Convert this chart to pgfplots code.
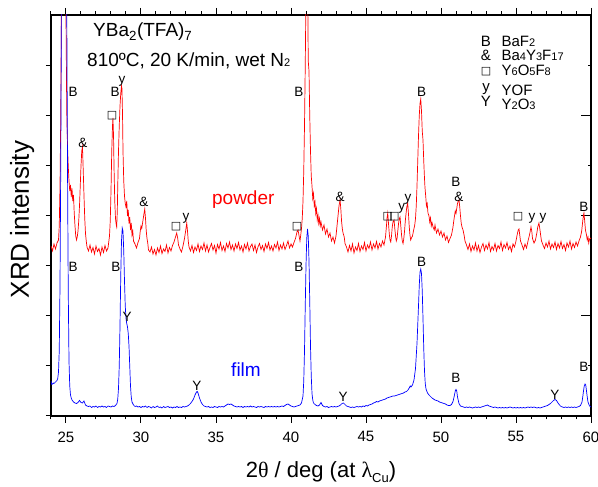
\documentclass[border=0pt]{standalone}
\usepackage{pgfplots}
\pgfplotsset{compat=1.18}
\usepackage{fontspec}
\setmainfont{Liberation Sans}
\newfontfamily\greekfont{Liberation Serif}
\newfontfamily\symbolfont{DejaVu Sans}

% small digits used as chemical indices
\newcommand{\ix}[1]{{\fontsize{11}{11}\selectfont #1}}
\newcommand{\sq}{{\symbolfont\fontsize{11}{11}\selectfont □}}

\tikzset{lbl/.style={font=\fontsize{13.5}{14}\selectfont, inner sep=0pt}}

\begin{document}
\begin{tikzpicture}
\useasboundingbox (-51pt,-71pt) rectangle (547pt,416pt);
\pgfplotsset{
  xrdframe/.style={
    width=540pt, height=401pt, scale only axis,
    xmin=24, xmax=60, ymin=0, ymax=8.02,
    axis line style={line width=1.1pt},
    tick style={black, line width=1pt},
  },
}
% left-hand intensity ticks
\begin{axis}[xrdframe, xtick=\empty, ytick={0,...,7}, yticklabels={},
  ytick pos=left, tick align=outside, major tick length=5pt]
\end{axis}
% right-hand intensity ticks
\begin{axis}[xrdframe, xtick=\empty, ytick={2,4,6}, minor ytick={1,3,5,7},
  yticklabels={}, ytick pos=right, tick align=inside,
  major tick length=10pt, minor tick length=3.5pt]
\end{axis}
% diffraction patterns
\begin{axis}[xrdframe, ytick=\empty,
  xtick={25,30,...,60}, minor xtick={24,...,60}, xtick pos=both,
  tick align=outside, major tick length=7pt, minor tick length=3.5pt,
  clip mode=individual,
  tick label style={font=\fontsize{15}{15}\selectfont},
  /pgf/number format/assume math mode=true,
  xticklabel style={yshift=-5pt},
]
% powder
\addplot[red, line width=0.7pt] coordinates {
(24.0,3.40) (24.1,3.30) (24.2,3.44) (24.3,3.34) (24.4,3.46) (24.5,3.52) (24.55,3.8) (24.6,4.6) (24.65,6.0) (24.7,8.5) (24.75,11) (24.8,13) (24.85,13) (24.9,12) (24.95,10) (25.0,8.0) (25.05,6.1) (25.1,5.4) (25.15,5.0) (25.2,4.7) (25.25,4.5) (25.3,4.62) (25.35,4.38) (25.4,4.55) (25.45,4.30) (25.5,4.42) (25.55,4.05) (25.6,3.8) (25.65,3.6) (25.7,3.52) (25.75,3.58) (25.8,3.7) (25.85,3.9) (25.9,4.2) (25.95,4.6) (26.0,5.0) (26.05,5.3) (26.1,5.38) (26.15,4.9) (26.2,4.4) (26.25,3.95) (26.3,3.65) (26.35,3.5) (26.4,3.38)
(26.5,3.30) (26.6,3.42) (26.7,3.28) (26.8,3.37) (26.9,3.24) (27.0,3.40) (27.1,3.29) (27.2,3.35) (27.3,3.22) (27.4,3.38) (27.5,3.27) (27.6,3.41) (27.7,3.30) (27.8,3.36) (27.85,3.48) (27.9,3.6) (27.95,3.9) (28.0,4.5) (28.05,5.3) (28.1,5.8) (28.13,5.96) (28.17,5.6) (28.2,5.0) (28.25,4.3) (28.3,3.95) (28.35,3.82) (28.38,3.78) (28.42,4.1) (28.45,4.6) (28.5,5.3) (28.55,5.8) (28.6,6.2) (28.65,6.45) (28.7,6.6) (28.73,6.55) (28.77,6.0) (28.8,5.3) (28.85,4.7) (28.9,4.4) (28.95,4.25) (29.0,4.18) (29.05,4.3) (29.1,4.0) (29.15,4.12) (29.2,3.85) (29.25,3.98) (29.3,3.72) (29.35,3.86) (29.4,3.62) (29.45,3.7) (29.5,3.50)
(29.6,3.44) (29.7,3.36) (29.8,3.47) (29.9,3.55) (29.95,3.7) (30.0,3.8) (30.05,3.75) (30.1,3.85) (30.15,3.95) (30.2,4.05) (30.25,4.14) (30.3,3.95) (30.35,3.7) (30.4,3.55) (30.45,3.46) (30.5,3.32) (30.6,3.28) (30.7,3.38) (30.8,3.24) (30.9,3.33) (31.0,3.22) (31.1,3.36) (31.2,3.27) (31.3,3.40) (31.4,3.25) (31.5,3.34) (31.6,3.29) (31.7,3.42) (31.8,3.26) (31.9,3.37) (32.0,3.30) (32.1,3.41) (32.2,3.48) (32.3,3.58) (32.38,3.66) (32.45,3.55) (32.5,3.42) (32.6,3.34) (32.7,3.28) (32.8,3.40) (32.9,3.55) (33.0,3.75) (33.05,3.86) (33.1,3.7) (33.15,3.5) (33.2,3.38)
(33.3,3.30) (33.4,3.41) (33.5,3.27) (33.6,3.38) (33.7,3.31) (33.8,3.44) (33.9,3.29) (34.0,3.40) (34.1,3.33) (34.2,3.46) (34.3,3.30) (34.4,3.42) (34.5,3.28) (34.6,3.37) (34.7,3.45) (34.8,3.32) (34.9,3.41) (35.0,3.26) (35.1,3.43) (35.2,3.34) (35.3,3.47) (35.4,3.31) (35.5,3.40) (35.6,3.29) (35.7,3.45) (35.8,3.36) (35.9,3.48) (36.0,3.33) (36.1,3.42) (36.2,3.30) (36.3,3.44) (36.4,3.35) (36.5,3.47) (36.6,3.32) (36.7,3.40) (36.8,3.28) (36.9,3.43) (37.0,3.34) (37.1,3.46) (37.2,3.30) (37.3,3.39) (37.4,3.44) (37.5,3.31) (37.6,3.42) (37.7,3.27) (37.8,3.38) (37.9,3.45)
(38.0,3.33) (38.1,3.41) (38.2,3.29) (38.3,3.44) (38.4,3.35) (38.5,3.47) (38.6,3.32) (38.7,3.40) (38.8,3.30) (38.9,3.43) (39.0,3.36) (39.1,3.48) (39.2,3.31) (39.3,3.42) (39.4,3.34) (39.5,3.46) (39.6,3.33) (39.7,3.41) (39.8,3.50) (39.9,3.36) (40.0,3.44) (40.1,3.38) (40.2,3.47) (40.3,3.55) (40.4,3.68) (40.47,3.72) (40.55,3.58) (40.6,3.50) (40.65,3.62) (40.7,3.75) (40.75,3.95) (40.8,4.3) (40.85,4.9) (40.9,5.8) (40.95,7.0) (41.0,8.5) (41.05,10) (41.1,9.0) (41.15,7.1) (41.2,6.9) (41.25,6.0) (41.3,5.3) (41.35,4.8) (41.4,4.6) (41.45,4.35) (41.5,4.45) (41.55,4.2) (41.6,4.28) (41.65,4.05) (41.7,4.15) (41.75,3.92) (41.8,4.02) (41.85,3.85) (41.9,3.95) (41.95,3.8) (42.0,3.88)
(42.1,3.72) (42.2,3.82) (42.3,3.64) (42.4,3.74) (42.5,3.58) (42.6,3.66) (42.7,3.50) (42.8,3.58) (42.9,3.46) (43.0,3.6) (43.05,3.75) (43.1,3.9) (43.15,4.05) (43.2,4.2) (43.27,4.32) (43.32,4.15) (43.37,3.9) (43.42,3.75) (43.47,3.66) (43.55,3.58) (43.6,3.45) (43.7,3.38) (43.8,3.28) (43.9,3.41) (44.0,3.30) (44.1,3.44) (44.2,3.26) (44.3,3.38) (44.4,3.31) (44.5,3.45) (44.6,3.29) (44.7,3.40) (44.8,3.33) (44.9,3.47) (45.0,3.30) (45.1,3.42) (45.2,3.35) (45.3,3.48) (45.4,3.32) (45.5,3.44) (45.6,3.36) (45.7,3.49) (45.8,3.34) (45.9,3.45) (46.0,3.38) (46.1,3.50) (46.2,3.42) (46.3,3.58) (46.35,3.75) (46.4,3.95) (46.45,4.06) (46.5,3.85) (46.55,3.65) (46.6,3.52) (46.65,3.48) (46.7,3.6) (46.75,3.78) (46.8,3.88) (46.87,3.92) (46.92,3.75) (46.97,3.6) (47.02,3.5) (47.07,3.55) (47.12,3.7) (47.17,3.85) (47.22,3.95) (47.27,3.98) (47.32,3.8) (47.37,3.62) (47.42,3.5) (47.47,3.45) (47.52,3.55) (47.57,3.7) (47.62,3.9) (47.67,4.05) (47.72,4.18) (47.78,4.26) (47.83,4.05) (47.88,3.8) (47.93,3.62) (47.98,3.52) (48.03,3.56)
(48.1,3.6) (48.15,3.68) (48.2,3.75) (48.25,3.82) (48.3,3.95) (48.35,4.2) (48.4,4.6) (48.45,5.1) (48.5,5.6) (48.55,6.0) (48.6,6.25) (48.65,6.34) (48.7,6.1) (48.75,5.7) (48.8,5.52) (48.85,5.1) (48.9,4.75) (48.93,4.58) (48.98,4.4) (49.03,4.2) (49.08,4.25) (49.13,4.06) (49.2,4.0) (49.25,3.88) (49.3,3.96) (49.35,3.80) (49.4,3.87) (49.47,3.78) (49.55,3.72) (49.6,3.82) (49.7,3.66) (49.8,3.74) (49.9,3.62) (50.0,3.70) (50.1,3.58) (50.2,3.66) (50.3,3.52) (50.4,3.60) (50.5,3.47) (50.6,3.55) (50.7,3.62) (50.75,3.7) (50.8,3.78) (50.85,3.9) (50.9,4.0) (50.95,4.1) (51.0,4.05) (51.05,4.15) (51.1,4.25) (51.15,4.3) (51.2,4.32) (51.25,4.18) (51.3,4.0) (51.35,3.85) (51.4,3.78) (51.47,3.72) (51.55,3.6) (51.6,3.5) (51.7,3.42)
(51.8,3.33) (51.9,3.44) (52.0,3.29) (52.1,3.40) (52.2,3.32) (52.3,3.46) (52.4,3.30) (52.5,3.41) (52.6,3.27) (52.7,3.38) (52.8,3.45) (52.9,3.31) (53.0,3.42) (53.1,3.34) (53.2,3.47) (53.3,3.29) (53.4,3.39) (53.5,3.32) (53.6,3.45) (53.7,3.30) (53.8,3.41) (53.9,3.35) (54.0,3.48) (54.1,3.31) (54.2,3.43) (54.3,3.36) (54.4,3.47) (54.5,3.33) (54.6,3.40) (54.7,3.29) (54.8,3.44) (54.9,3.38) (55.0,3.50) (55.05,3.58) (55.1,3.66) (55.15,3.72) (55.2,3.74) (55.25,3.62) (55.3,3.5) (55.4,3.42) (55.5,3.33) (55.6,3.44) (55.7,3.36) (55.8,3.5) (55.9,3.62) (56.0,3.78) (56.05,3.7) (56.1,3.55) (56.2,3.46) (56.3,3.52) (56.4,3.68) (56.45,3.78) (56.53,3.86) (56.6,3.72) (56.65,3.60) (56.7,3.50) (56.8,3.42) (56.9,3.35)
(57.0,3.46) (57.1,3.38) (57.2,3.50) (57.3,3.34) (57.4,3.44) (57.5,3.37) (57.6,3.48) (57.7,3.33) (57.8,3.45) (57.9,3.36) (58.0,3.49) (58.1,3.35) (58.2,3.43) (58.3,3.31) (58.4,3.46) (58.5,3.38) (58.6,3.50) (58.7,3.34) (58.8,3.45) (58.9,3.37) (59.0,3.48) (59.1,3.40) (59.2,3.50) (59.3,3.58) (59.38,3.7) (59.45,3.9) (59.5,4.02) (59.53,4.06) (59.58,3.9) (59.63,3.72) (59.7,3.62) (59.75,3.52) (59.8,3.58) (59.85,3.46) (59.9,3.54) (60.0,3.56)
};
% film
\addplot[blue, line width=0.7pt] coordinates {
(24.00,0.70) (24.05,0.63) (24.10,0.64) (24.15,0.66) (24.20,0.65) (24.30,0.68) (24.40,0.71) (24.45,0.75) (24.50,0.88) (24.55,1.3) (24.60,2.6) (24.65,5.0) (24.70,8.5) (24.80,11) (24.90,11) (25.00,10) (25.05,8.2) (25.10,5.0) (25.15,2.5) (25.20,1.1) (25.25,0.6) (25.30,0.42) (25.35,0.36) (25.40,0.32) (25.50,0.28) (25.60,0.26) (25.70,0.25) (25.80,0.27) (25.90,0.31) (26.00,0.27) (26.10,0.26) (26.20,0.30) (26.30,0.22) (26.40,0.20) (26.50,0.19) (26.60,0.20) (26.70,0.17) (26.80,0.19) (26.90,0.18) (27.00,0.20) (27.10,0.17) (27.20,0.19) (27.30,0.18) (27.40,0.20) (27.50,0.18) (27.60,0.19) (27.70,0.17) (27.80,0.20) (27.90,0.19) (28.00,0.18) (28.10,0.20) (28.20,0.19) (28.30,0.21)
(28.40,0.25) (28.45,0.34) (28.50,0.55) (28.55,1.0) (28.60,1.8) (28.65,2.8) (28.70,3.5) (28.75,3.76) (28.80,3.7) (28.85,3.3) (28.90,2.7) (28.95,2.2) (29.00,1.95) (29.05,1.85) (29.10,1.78) (29.15,1.65) (29.20,1.40) (29.25,1.0) (29.30,0.6) (29.35,0.38) (29.40,0.28) (29.50,0.22) (29.60,0.19) (29.70,0.20) (29.80,0.18) (29.90,0.19) (30.00,0.17) (30.10,0.19) (30.20,0.18) (30.30,0.20) (30.40,0.17) (30.50,0.19) (30.60,0.18) (30.70,0.16) (30.80,0.19) (30.90,0.17) (31.00,0.18) (31.10,0.20) (31.20,0.17) (31.30,0.18) (31.40,0.16) (31.50,0.19) (31.60,0.17) (31.70,0.18) (31.80,0.19) (31.90,0.17) (32.00,0.18) (32.10,0.16) (32.20,0.18) (32.30,0.17) (32.40,0.19) (32.50,0.17) (32.60,0.18) (32.70,0.17) (32.80,0.19) (32.90,0.18)
(33.00,0.19) (33.10,0.20) (33.20,0.22) (33.30,0.25) (33.40,0.29) (33.50,0.34) (33.60,0.42) (33.70,0.48) (33.75,0.49) (33.80,0.46) (33.90,0.36) (34.00,0.28) (34.10,0.23) (34.20,0.20) (34.30,0.19) (34.40,0.18) (34.50,0.19) (34.60,0.17) (34.70,0.18) (34.80,0.17) (34.90,0.19) (35.00,0.18) (35.10,0.17) (35.20,0.19) (35.30,0.18) (35.40,0.19) (35.50,0.18) (35.60,0.20) (35.70,0.22) (35.80,0.24) (35.90,0.23) (36.00,0.24) (36.10,0.22) (36.20,0.20) (36.30,0.19) (36.40,0.18) (36.50,0.19) (36.60,0.18) (36.70,0.19) (36.80,0.17) (36.90,0.19) (37.00,0.18) (37.10,0.19) (37.20,0.18) (37.30,0.20) (37.40,0.18) (37.50,0.19) (37.60,0.18) (37.70,0.17) (37.80,0.19) (37.90,0.18)
(38.00,0.19) (38.10,0.18) (38.20,0.17) (38.30,0.19) (38.40,0.18) (38.50,0.19) (38.60,0.18) (38.70,0.19) (38.80,0.18) (38.90,0.19) (39.00,0.18) (39.10,0.19) (39.20,0.18) (39.30,0.19) (39.40,0.20) (39.50,0.19) (39.60,0.21) (39.70,0.23) (39.80,0.24) (39.90,0.22) (40.00,0.20) (40.10,0.19) (40.20,0.18) (40.30,0.19) (40.40,0.20) (40.50,0.21) (40.60,0.22) (40.70,0.26) (40.80,0.4) (40.85,0.7) (40.90,1.3) (40.95,2.2) (41.00,3.0) (41.05,3.55) (41.10,3.74) (41.15,3.6) (41.20,3.1) (41.25,2.3) (41.30,1.4) (41.35,0.8) (41.40,0.45) (41.45,0.32) (41.50,0.26) (41.60,0.23) (41.70,0.21) (41.80,0.20) (41.90,0.22) (42.00,0.27) (42.05,0.24) (42.10,0.21)
(42.20,0.19) (42.30,0.18) (42.40,0.19) (42.50,0.17) (42.60,0.18) (42.70,0.19) (42.80,0.18) (42.90,0.19) (43.00,0.18) (43.10,0.19) (43.20,0.20) (43.30,0.22) (43.40,0.25) (43.50,0.26) (43.60,0.23) (43.70,0.20) (43.80,0.19) (43.90,0.18) (44.00,0.17) (44.10,0.18) (44.20,0.17) (44.30,0.18) (44.40,0.19) (44.50,0.18) (44.60,0.19) (44.70,0.18) (44.80,0.20) (44.90,0.19) (45.00,0.21) (45.10,0.20) (45.20,0.22) (45.30,0.23) (45.40,0.24) (45.50,0.26) (45.60,0.27) (45.70,0.29) (45.80,0.28) (45.90,0.30) (46.00,0.31) (46.10,0.32) (46.20,0.33) (46.30,0.34) (46.40,0.36) (46.50,0.37) (46.60,0.38) (46.70,0.39) (46.80,0.40) (46.90,0.40) (47.00,0.41) (47.10,0.42) (47.20,0.43) (47.30,0.44) (47.40,0.45) (47.50,0.46) (47.60,0.48) (47.70,0.49) (47.80,0.52) (47.90,0.57) (47.95,0.60) (48.00,0.58)
(48.10,0.62) (48.20,0.72) (48.30,0.95) (48.40,1.45) (48.50,2.2) (48.55,2.6) (48.60,2.88) (48.65,2.94) (48.70,2.85) (48.75,2.5) (48.80,1.95) (48.85,1.35) (48.90,0.9) (48.95,0.65) (49.00,0.54) (49.10,0.46) (49.20,0.42) (49.30,0.39) (49.40,0.36) (49.50,0.34) (49.60,0.32) (49.70,0.31) (49.80,0.30) (49.90,0.28) (50.00,0.27) (50.10,0.26) (50.20,0.25) (50.30,0.24) (50.40,0.22) (50.50,0.21) (50.60,0.21) (50.70,0.23) (50.80,0.29) (50.90,0.42) (50.95,0.50) (51.00,0.53) (51.05,0.50) (51.10,0.38) (51.20,0.25) (51.30,0.20) (51.40,0.19) (51.50,0.18) (51.60,0.17) (51.70,0.18) (51.80,0.17) (51.90,0.18)
(52.00,0.17) (52.10,0.16) (52.20,0.17) (52.30,0.18) (52.40,0.17) (52.50,0.18) (52.60,0.17) (52.70,0.18) (52.80,0.19) (52.90,0.20) (53.00,0.21) (53.10,0.22) (53.20,0.20) (53.30,0.19) (53.40,0.18) (53.50,0.17) (53.60,0.18) (53.70,0.17) (53.80,0.16) (53.90,0.17) (54.00,0.16) (54.10,0.17) (54.20,0.16) (54.30,0.17) (54.40,0.16) (54.50,0.17) (54.60,0.18) (54.70,0.17) (54.80,0.16) (54.90,0.17) (55.00,0.16) (55.10,0.17) (55.20,0.16) (55.30,0.17) (55.40,0.16) (55.50,0.17) (55.60,0.16) (55.70,0.17) (55.80,0.18) (55.90,0.17) (56.00,0.18) (56.10,0.17) (56.20,0.18) (56.30,0.17) (56.40,0.16) (56.50,0.17) (56.60,0.16) (56.70,0.17) (56.80,0.18) (56.90,0.19)
(57.00,0.20) (57.10,0.21) (57.20,0.23) (57.30,0.25) (57.40,0.28) (57.50,0.31) (57.60,0.33) (57.70,0.31) (57.80,0.26) (57.90,0.22) (58.00,0.19) (58.10,0.18) (58.20,0.17) (58.30,0.18) (58.40,0.17) (58.50,0.18) (58.60,0.17) (58.70,0.18) (58.80,0.17) (58.90,0.18) (59.00,0.17) (59.10,0.18) (59.20,0.19) (59.30,0.21) (59.40,0.28) (59.45,0.38) (59.50,0.50) (59.55,0.60) (59.60,0.64) (59.65,0.62) (59.70,0.50) (59.75,0.38) (59.80,0.28) (59.90,0.20) (60.00,0.18)
};

% axis titles
\node[rotate=90, font=\fontsize{26}{26}\selectfont] at (axis cs:22.07,3.93) {XRD intensity};
\node[anchor=base, font=\fontsize{22}{22}\selectfont] at (axis cs:42,-1.24)
  {2{\greekfont θ} / deg (at {\greekfont λ}\raisebox{-5pt}{\fontsize{13}{13}\selectfont Cu})};

% sample and conditions
\node[anchor=base west, font=\fontsize{19}{19}\selectfont, inner sep=0pt] at (axis cs:26.8,7.58)
  {YBa\textsubscript{2}(TFA)\textsubscript{7}};
\node[anchor=base west, font=\fontsize{19}{19}\selectfont, inner sep=0pt] at (axis cs:26.4,6.99)
  {810ºC, 20 K/min, wet N\ix{2}};
\node[anchor=base, red, font=\fontsize{19}{19}\selectfont, inner sep=0pt] at (axis cs:36.82,4.22) {powder};
\node[anchor=base, blue, font=\fontsize{19}{19}\selectfont, inner sep=0pt] at (axis cs:37.0,0.79) {film};

% phase key
\begin{scope}[every node/.style={font=\fontsize{15}{15}\selectfont, inner sep=0pt}]
\node[anchor=base] at (axis cs:53.0,7.39) {B};
\node[anchor=base] at (axis cs:53.0,7.11) {\&};
\node at (axis cs:53.0,6.89) {\sq};
\node[anchor=base] at (axis cs:53.0,6.48) {y};
\node[anchor=base] at (axis cs:53.0,6.18) {Y};
\node[anchor=base west] at (axis cs:54.03,7.39) {BaF\ix{2}};
\node[anchor=base west] at (axis cs:54.03,7.10) {Ba\ix{4}Y\ix{3}F\ix{17}};
\node[anchor=base west] at (axis cs:54.03,6.80) {Y\ix{6}O\ix{5}F\ix{8}};
\node[anchor=base west] at (axis cs:54.03,6.41) {YOF};
\node[anchor=base west] at (axis cs:54.03,6.12) {Y\ix{2}O\ix{3}};
\end{scope}

% peak assignments, powder
\node[lbl] at (axis cs:25.47,6.48) {B};
\node[lbl] at (axis cs:28.27,6.48) {B};
\node[lbl] at (axis cs:28.73,6.70) {y};
\node[lbl] at (axis cs:28.07,6.00) {\sq};
\node[lbl] at (axis cs:26.13,5.46) {\&};
\node[lbl] at (axis cs:30.20,4.28) {\&};
\node[lbl] at (axis cs:32.33,3.78) {\sq};
\node[lbl] at (axis cs:33.00,3.96) {y};
\node[lbl] at (axis cs:40.53,6.48) {B};
\node[lbl] at (axis cs:40.40,3.78) {\sq};
\node[lbl] at (axis cs:43.27,4.38) {\&};
\node[lbl] at (axis cs:46.45,3.98) {\sq};
\node[lbl] at (axis cs:46.89,3.98) {\sq};
\node[lbl] at (axis cs:47.38,4.16) {y};
\node[lbl] at (axis cs:47.80,4.34) {y};
\node[lbl] at (axis cs:48.71,6.48) {B};
\node[lbl] at (axis cs:51.00,4.68) {B};
\node[lbl] at (axis cs:51.20,4.38) {\&};
\node[lbl] at (axis cs:55.13,3.98) {\sq};
\node[lbl] at (axis cs:56.07,3.96) {y};
\node[lbl] at (axis cs:56.80,3.96) {y};
\node[lbl] at (axis cs:59.53,4.18) {B};
% peak assignments, film
\node[lbl] at (axis cs:25.47,2.98) {B};
\node[lbl] at (axis cs:28.33,2.98) {B};
\node[lbl] at (axis cs:29.07,1.98) {Y};
\node[lbl] at (axis cs:33.73,0.60) {Y};
\node[lbl] at (axis cs:40.53,2.98) {B};
\node[lbl] at (axis cs:43.47,0.38) {Y};
\node[lbl] at (axis cs:48.71,3.08) {B};
\node[lbl] at (axis cs:51.00,0.76) {B};
\node[lbl] at (axis cs:57.60,0.42) {Y};
\node[lbl] at (axis cs:59.53,0.98) {B};
\end{axis}
\end{tikzpicture}
\end{document}
